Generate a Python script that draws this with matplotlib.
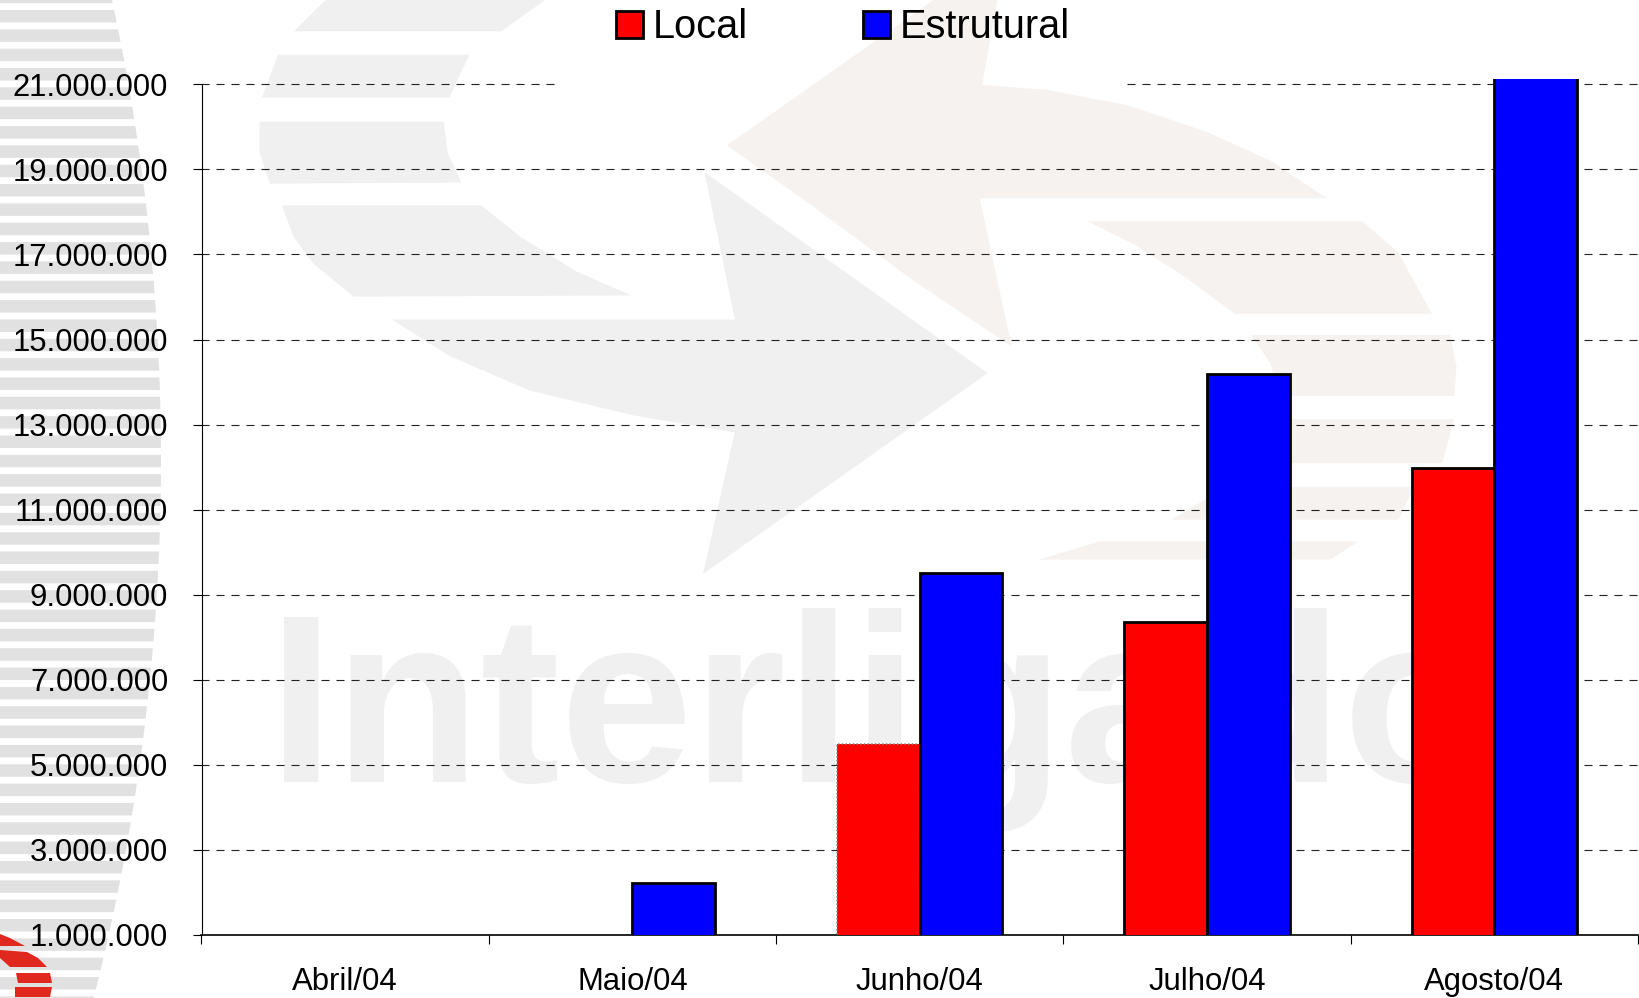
import numpy as np
import matplotlib
matplotlib.use("Agg")
import matplotlib.pyplot as plt
from matplotlib.patches import Polygon

plt.rcParams["font.family"] = ["Liberation Sans", "DejaVu Sans"]
plt.rcParams["lines.scale_dashes"] = False


# ==========================
# Data
# ==========================

months = ["Abril/04", "Maio/04", "Junho/04", "Julho/04", "Agosto/04"]

local = [0, 0, 5490000, 8360000, 11980000]
estrutural = [0, 2220000, 9500000, 14190000, 21500000]

y_ticks = [1000000, 3000000, 5000000, 7000000, 9000000, 11000000,
           13000000, 15000000, 17000000, 19000000, 21000000]

W = 1639
H = 998

fig = plt.figure(figsize=(W / 100, H / 100), dpi=100)


# ==========================
# Slide background
# ==========================

bg = fig.add_axes([0, 0, 1, 1], zorder=0)
bg.set_xlim(0, W)
bg.set_ylim(H, 0)
bg.axis("off")

# stripes on the left, right edge follows a big circle
radius = 2184
for top in np.arange(-9.34, H, 19.34):
    ys = np.array([top, top + 12.5])
    xs = 161 - radius + np.sqrt(radius**2 - (ys - 460)**2)
    bg.add_patch(Polygon([(0, ys[0]), (xs[0], ys[0]), (xs[1], ys[1]), (0, ys[1])],
                         color="#e1e1e1", lw=0))


def wm(points, colour):
    pts = [(x / 1.254 + 250, y / 2.613) for x, y in points]
    bg.add_patch(Polygon(pts, color=colour, lw=0))


gray = "#f0f0f0"
warm = "#f6f2ef"

wm([(95, 0), (370, 0), (315, 82), (55, 82)], gray)
wm([(35, 143), (275, 143), (250, 255), (15, 255)], gray)
wm([(12, 318), (243, 318), (248, 400), (265, 477), (25, 480), (12, 400)], gray)
wm([(40, 537), (290, 537), (340, 620), (410, 710), (478, 772), (130, 775),
    (80, 690), (55, 620)], gray)
wm([(178, 835), (608, 835), (570, 450), (925, 975), (568, 1500), (608, 1130),
    (480, 1085), (350, 1020), (250, 930)], gray)

wm([(598, 380), (857, 0), (937, 0), (918, 222), (1000, 235), (1100, 275),
    (1200, 345), (1280, 420), (1350, 518), (915, 518), (955, 905), (830, 730),
    (700, 530)], warm)
wm([(1050, 578), (1395, 578), (1440, 660), (1482, 820), (1235, 820),
    (1170, 720), (1110, 640)], warm)
wm([(1255, 875), (1505, 875), (1513, 960), (1510, 1035), (1290, 1035),
    (1280, 950)], warm)
wm([(1290, 1095), (1510, 1095), (1495, 1210), (1290, 1210)], warm)
wm([(1225, 1272), (1460, 1272), (1440, 1358), (1155, 1358)], warm)
wm([(1065, 1415), (1390, 1415), (1355, 1462), (990, 1462)], warm)

bg.text(268, 782, "Interligado", fontsize=172, fontweight="bold",
        color="#f0f0f0", ha="left", va="baseline")

# red logo corner
logo = "#e0281e"
for piece in [
    [(0, 934), (10, 938), (25, 946), (0, 946)],
    [(0, 950), (27, 952), (38, 958), (47, 967), (10, 967), (0, 958)],
    [(16, 973), (50, 973), (52, 983), (18, 983)],
    [(15, 987), (52, 987), (50, 997), (15, 997)],
]:
    bg.add_patch(Polygon(piece, color=logo, lw=0))


# ==========================
# Chart
# ==========================

left = 201.5
right = 1638
top_px = 79
bottom_px = 935

ax = fig.add_axes([left / W, 1 - bottom_px / H, (right - left) / W,
                   (bottom_px - top_px) / H], zorder=1)
ax.patch.set_visible(False)

x = np.arange(len(months))
width = 0.2875

ax.set_xlim(-0.5, 4.5)
ax.set_ylim(1000000, 21125000)

bars_local = ax.bar(x - width / 2, local, width, color="#ff0000",
                    edgecolor="black", linewidth=2, zorder=3, label="Local")
bars_estr = ax.bar(x + width / 2, estrutural, width, color="#0000ff",
                   edgecolor="black", linewidth=2, zorder=3, label="Estrutural")

# the June bar is left selected in the original
bars_local[2].set_edgecolor("#888888")
bars_local[2].set_linestyle(":")
bars_local[2].set_linewidth(1.2)
bars_estr[2].set_zorder(4)

# gridlines, with the small gap right of the last bar
gap_start = 4 + width
gap_end = gap_start + 7 / 287.3
for val in y_ticks[1:]:
    if val == y_ticks[-1]:
        segments = [(-0.5, 0.737), (2.721, gap_start), (gap_end, 4.5)]
    else:
        segments = [(-0.5, gap_start), (gap_end, 4.5)]
    for a, b in segments:
        ax.plot([a, b], [val, val], color="#222222", lw=0.8, dashes=(5.8, 5.0),
                zorder=1)

ax.spines["top"].set_visible(False)
ax.spines["right"].set_visible(False)
ax.spines["left"].set_bounds(1000000, 21000000)
ax.spines["left"].set_linewidth(0.8)
ax.spines["bottom"].set_linewidth(1.2)

ax.set_yticks(y_ticks)
ax.set_yticklabels([f"{v:,}".replace(",", ".") for v in y_ticks])
ax.tick_params(axis="y", length=6.5, width=0.8, pad=17.5, labelsize=22.3)

ax.set_xticks(np.arange(-0.5, 5, 1))
ax.set_xticklabels([])
ax.set_xticks(x, minor=True)
ax.set_xticklabels(months, minor=True)
ax.tick_params(axis="x", which="major", length=6.5, width=0.8)
ax.tick_params(axis="x", which="minor", length=0, pad=23, labelsize=22.4)

ax.legend(handles=[bars_local, bars_estr], loc="upper left",
          bbox_to_anchor=(616 / W, 1 - 8.5 / H), bbox_transform=fig.transFigure,
          ncol=2, frameon=False, fontsize=28.6, borderpad=0, borderaxespad=0,
          handlelength=0.68, handleheight=0.66, handletextpad=0.24,
          columnspacing=2.9)

fig.savefig("out.png", dpi=100)
